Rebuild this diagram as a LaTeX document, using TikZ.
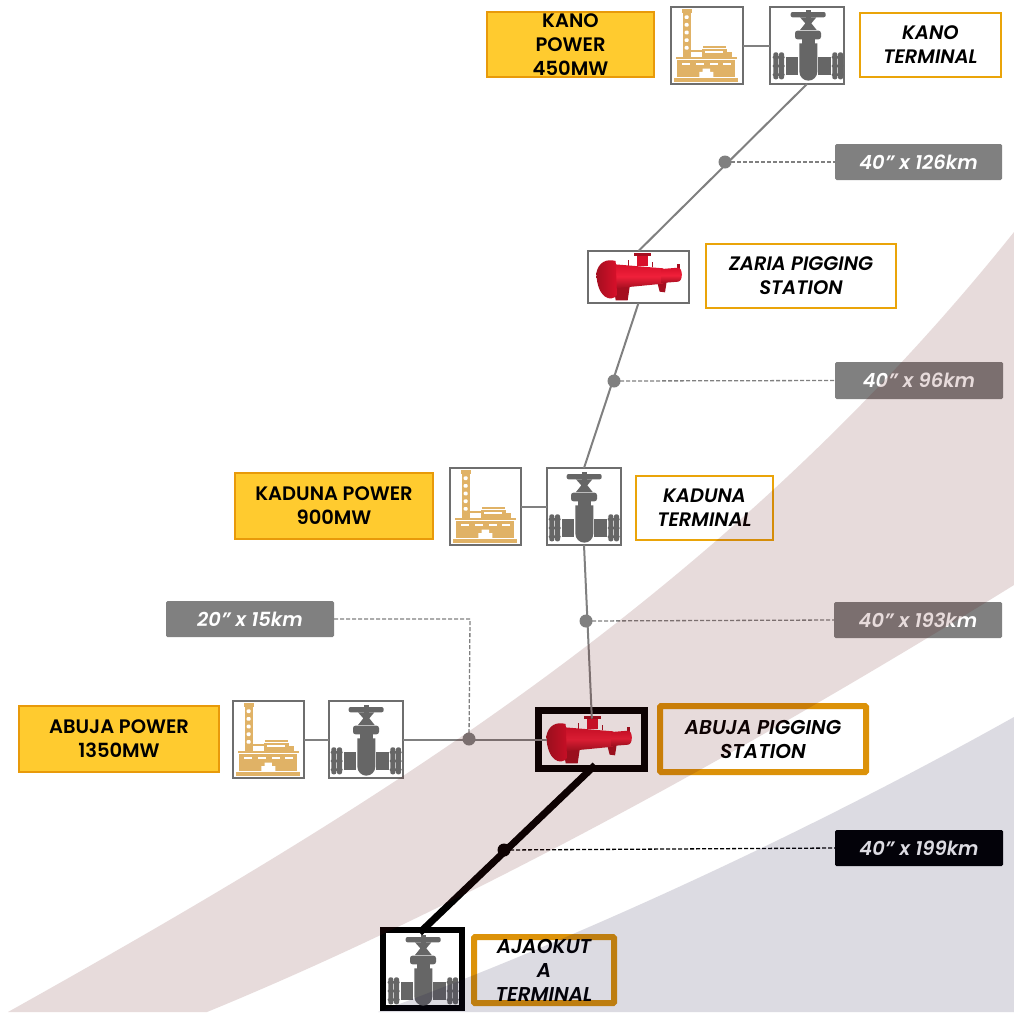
\documentclass[tikz,border=0pt]{standalone}
\usepackage{fontspec}
\setmainfont{Poppins}[BoldFont={Poppins SemiBold},BoldItalicFont={Poppins SemiBold Italic}]
\usetikzlibrary{calc}
\definecolor{yel}{HTML}{FFCB2F}
\definecolor{org}{HTML}{E89A0A}
\definecolor{iconbox}{HTML}{6E6E6E}
\definecolor{valvec}{HTML}{666666}
\definecolor{plantc}{HTML}{E0B266}
\definecolor{pipec}{HTML}{808080}
\definecolor{rosec}{HTML}{5F0F0F}
\definecolor{greyc}{HTML}{160F3E}
\definecolor{heatm}{HTML}{D8102A}
\definecolor{heatl}{HTML}{F0203A}
\definecolor{heatd}{HTML}{A50F20}
\newcommand{\bx}[7]{\node[#1, minimum width={(#5-#3)*1pt}, minimum height={(#6-#4)*1pt}] (#2) at ({(#3+#5)/2},{(#4+#6)/2}) {#7};}
\tikzset{
 allbox/.style={inner sep=0pt,outer sep=0pt,align=center},
 power/.style={allbox,fill=yel,draw=org,line width=1.5pt,font=\fontsize{19.5}{24}\selectfont\bfseries},
 term/.style={allbox,fill=white,draw=org!90!yellow,line width=1.8pt,font=\fontsize{19.5}{24}\selectfont\bfseries\itshape},
 termbig/.style={term,rounded corners=1pt,line width=6pt,draw=org!95!black,font=\fontsize{20}{24}\selectfont\bfseries\itshape},
 size/.style={allbox,fill=pipec,rounded corners=1.5pt,text=white,font=\fontsize{19.5}{20}\selectfont\bfseries\itshape},
 sizeblack/.style={size,fill=black},
 icon/.style={allbox,fill=white,draw=iconbox,line width=2.4pt},
 iconbig/.style={allbox,fill=white,draw=black,line width=6.5pt},
 dotg/.style={circle,fill=pipec,minimum size=13pt,inner sep=0pt,outer sep=0pt},
 dotk/.style={dotg,fill=black},
 pipe/.style={draw=pipec,line width=2pt},
 pipebig/.style={draw=black,line width=7pt},
 lead/.style={draw=pipec,line width=1.3pt,dash pattern=on 4pt off 2pt},
 leadk/.style={lead,draw=black},
 valve/.pic={
  \begin{scope}[x=.3333pt,y=-.3333pt,fill=valvec]
   \fill[rounded corners=2pt] (62,18) rectangle (167,34);
   \fill (108,12) rectangle (122,40);
   \fill (90,34) -- (139,34) -- (124,52) -- (140,72) -- (90,72) -- (106,52) -- cycle;
   \fill[rounded corners=2.5pt] (75,74) rectangle (153,100);
   \fill (95,100) rectangle (135,115);
   \fill (88,112) -- (142,112) -- (142,197) arc[start angle=0,end angle=180,radius=27] -- cycle;
   \fill (48,154) rectangle (85,207);
   \fill (145,154) rectangle (182,207);
   \foreach \fx in {10,27,187,204}{\fill[rounded corners=2pt] (\fx,139) rectangle (\fx+15,220);}
   \foreach \fx in {8,185}{\foreach \fy in {150,176,202}{\fill[rounded corners=1pt] (\fx,\fy) rectangle (\fx+36,\fy+8);}}
  \end{scope}},
 plant/.pic={
  \begin{scope}[x=.3333pt,y=-.3333pt]
   \fill[plantc] (35,10) rectangle (65,22);
   \fill[plantc] (38,22) rectangle (62,155);
   \foreach \hy in {28,51,74,97,120}{\fill[white,rounded corners=1pt] (44,\hy) rectangle (56,\hy+11);}
   \fill[plantc] (60,132) rectangle (98,137);
   \fill[plantc] (100,120) rectangle (168,127);
   \fill[plantc] (97,130) rectangle (172,152);
   \fill[white] (106,136) rectangle (160,141);
   \fill[plantc] (172,138) rectangle (186,154);
   \fill[plantc] (18,152) rectangle (200,160);
   \fill[plantc] (22,162) rectangle (195,214);
   \foreach \dx in {35,78,120,160}{\fill[white] (\dx,170) rectangle (\dx+24,176);}
   \fill[white] (88,198) -- (98,198) -- (98,188) -- (120,188) -- (120,198) -- (130,198) -- (130,214) -- (88,214) -- cycle;
   \fill[plantc] (12,217) rectangle (205,227);
  \end{scope}},
 heater/.pic={
  \begin{scope}[x=.3333pt,y=-.3333pt]
   \fill[heatd] (55,95) -- (105,95) -- (98,142) -- (62,142) -- cycle;
   \fill[heatd] (186,85) -- (216,80) -- (210,118) -- (194,116) -- cycle;
   \fill[heatd] (116,0) rectangle (168,10);
   \fill[heatm] (127,10) rectangle (158,40);
   \fill[heatd] (98,22) rectangle (103,40);
   \fill[heatd] (170,26) rectangle (175,42);
   \fill[heatd] (246,32) rectangle (254,48);
   \shade[top color=heatm,bottom color=heatd,middle color=heatl] (60,34) -- (205,46) -- (205,92) -- (60,106) -- cycle;
   \shade[top color=heatm,bottom color=heatd,middle color=heatl] (200,48) -- (250,44) .. controls (264,46) and (264,84) .. (250,86) -- (200,90) -- cycle;
   \shade[left color=heatd,right color=heatm] (4,60) .. controls (10,28) and (35,16) .. (62,24) -- (66,126) .. controls (48,150) and (6,135) .. (4,60) -- cycle;
  \end{scope}},
}
\begin{document}
\begin{tikzpicture}[x=1pt,y=-1pt]
\useasboundingbox (0,0) rectangle (1014,1012);
\fill[white] (0,0) rectangle (1014,1012);
% labels
\bx{power}{kanoPower}{487}{12}{654}{77}{KANO\\POWER\\450MW}
\bx{term}{kanoTerm}{860}{13}{1001}{77}{KANO\\TERMINAL}
\bx{term}{zariaTerm}{706}{244}{896}{308}{ZARIA PIGGING\\STATION}
\bx{term}{kadTerm}{636}{476}{773}{540}{KADUNA\\TERMINAL}
\bx{power}{kadPower}{235}{473}{433}{539}{KADUNA POWER\\900MW}
\bx{power}{abuPower}{19}{706}{219}{772}{ABUJA POWER\\1350MW}
\bx{termbig}{abuTerm}{660}{706}{866}{772}{ABUJA PIGGING\\STATION}
\bx{termbig}{ajaTerm}{474}{937}{614}{1003}{AJAOKUT\\A\\TERMINAL}
\bx{size}{sz126}{835}{144}{1002}{180}{40” x 126km}
\bx{size}{sz96}{835}{362}{1003}{399}{40” x 96km}
\bx{size}{sz193}{834}{602}{1002}{638}{40” x 193km}
\bx{sizeblack}{sz199}{835}{830}{1003}{866}{40” x 199km}
\bx{size}{sz15}{166}{601}{334}{637}{20” x 15km}
% icon boxes
\bx{icon}{kanoPlant}{671}{7}{743}{84}{}
\bx{icon}{kanoValve}{770}{7}{844}{84}{}
\bx{icon}{zariaBox}{588}{251}{689}{303}{}
\bx{icon}{kadPlant}{450}{468}{521}{545}{}
\bx{icon}{kadValve}{547}{468}{621}{545}{}
\bx{icon}{abuPlant}{233}{701}{304}{778}{}
\bx{icon}{abuValve}{329}{701}{403}{778}{}
\bx{iconbig}{abuBox}{538.5}{710.5}{644.5}{768.5}{}
\bx{iconbig}{ajaValve}{383}{930}{462}{1008}{}
% icons
\pic at (670,6) {plant};
\pic at (770,6) {valve};
\pic at (449,467) {plant};
\pic at (546,468) {valve};
\pic at (232,700) {plant};
\pic at (328,701) {valve};
\pic at (385,931) {valve};
\pic at (595,253) {heater};
\pic at (545,716) {heater};
% dots
\node[dotg] (d126) at (725,162) {};
\node[dotg] (d96) at (614,381) {};
\node[dotg] (d193) at (586,621) {};
\node[dotg] (d15) at (469,739) {};
\node[dotk] (d199) at (504,850) {};
\coordinate (bend15) at (470,619);
% connectors
\draw[pipe] (kanoPlant.east) -- (kanoValve.west);
\draw[pipe] (kadPlant.east) -- (kadValve.west);
\draw[pipe] (abuPlant.east) -- (abuValve.west);
\draw[pipe] (kanoValve.south) -- (zariaBox.north);
\draw[pipe] (zariaBox.south) -- (kadValve.north);
\draw[pipe,shorten >=-8pt] (kadValve.south) -- (abuBox.north);
\draw[pipe,shorten >=-8pt] (abuValve.east) -- (abuBox.west);
\draw[pipebig,shorten <=-5pt,shorten >=-4pt] (abuBox.south) -- (ajaValve.north);
\draw[lead] (d126.center) -- (sz126.west);
\draw[lead] (d96.center) -- (sz96.west);
\draw[lead] (d193.center) -- (sz193.west);
\draw[leadk] (d199.center) -- (sz199.west);
\draw[lead] (sz15.east) -- (bend15) -- (d15.center);
% translucent bands
\fill[rosec,fill opacity=.15] (8,1012) .. controls (360,815) and (720,600) .. (1014,232) -- (1014,585) .. controls (780,730) and (480,900) .. (207,1012) -- cycle;
\fill[greyc,fill opacity=.15] (378,1012) .. controls (600,930) and (830,820) .. (1014,717) -- (1014,1012) -- cycle;
\end{tikzpicture}
\end{document}
